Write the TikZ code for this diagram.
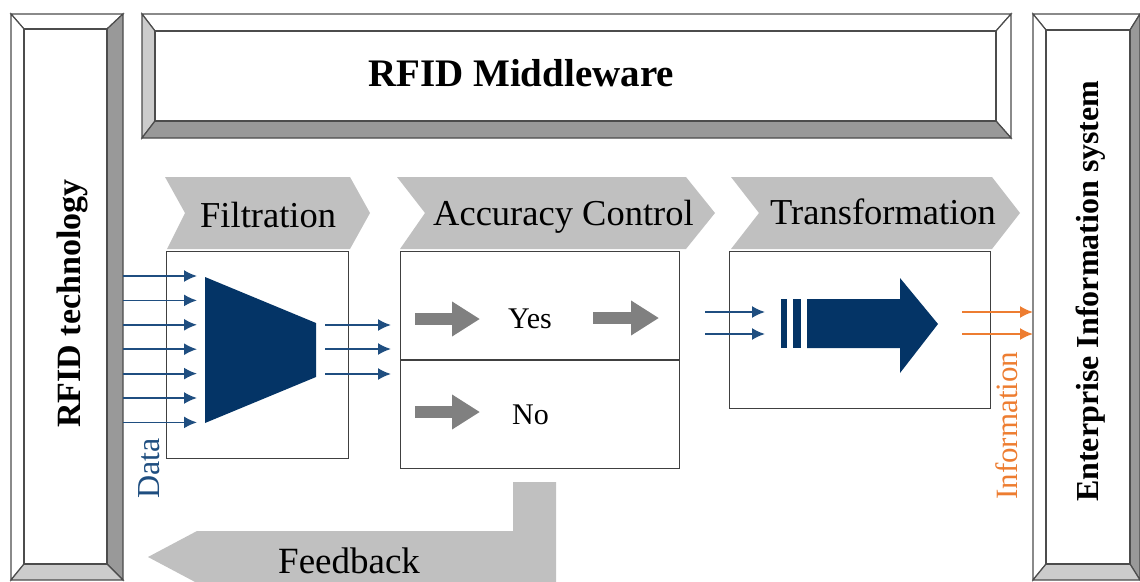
\documentclass[tikz,border=0pt]{standalone}
\usepackage{fontspec}
\setmainfont{Liberation Serif}
\usetikzlibrary{arrows.meta}

\definecolor{navy}{RGB}{4,52,102}
\definecolor{flowblue}{RGB}{31,78,128}
\definecolor{infoorange}{RGB}{237,125,49}
\definecolor{chevgray}{RGB}{192,192,192}
\definecolor{arrowgray}{RGB}{128,128,128}
\definecolor{bevdark}{RGB}{153,153,153}
\definecolor{bevlight}{RGB}{204,204,204}

% bevelled panel: outer x1 y1 x2 y2, inner x1 y1 x2 y2
\newcommand{\bevelbox}[8]{%
  \filldraw[bevelline, fill=bvtop] (#1,#2) -- (#3,#2) -- (#7,#6) -- (#5,#6) -- cycle;
  \filldraw[bevelline, fill=bvleft] (#1,#2) -- (#5,#6) -- (#5,#8) -- (#1,#4) -- cycle;
  \filldraw[bevelline, fill=bvright] (#3,#2) -- (#3,#4) -- (#7,#8) -- (#7,#6) -- cycle;
  \filldraw[bevelline, fill=bvbottom] (#1,#4) -- (#3,#4) -- (#7,#8) -- (#5,#8) -- cycle;
  \filldraw[bevelline, fill=white] (#5,#6) rectangle (#7,#8);
}

\tikzset{
  bevelline/.style={draw=black!70, line width=1.2pt},
  stagebox/.style={draw=black!75, line width=1.3pt, fill=white, anchor=north west, inner sep=0pt},
  dataflow/.style={flowblue, line width=1.8pt, -{Latex[length=13pt, width=12pt]}},
  infoflow/.style={infoorange, line width=1.8pt, -{Latex[length=13pt, width=12pt]}},
  grayflow/.style={arrowgray, line width=12pt, -{Triangle[length=28pt, width=33pt]}},
  paneltext/.style={font=\fontsize{34}{36}\selectfont\bfseries, rotate=90, anchor=base west, inner sep=0pt},
  stagetext/.style={font=\fontsize{36.5}{38}\selectfont, anchor=base west, inner sep=0pt},
  answertext/.style={font=\fontsize{30}{32}\selectfont, anchor=base west, inner sep=0pt},
  flowtext/.style={font=\fontsize{32}{34}\selectfont, rotate=90, anchor=base west, inner sep=0pt}
}

\begin{document}
\begin{tikzpicture}[x=1pt, y=-1pt]

\useasboundingbox (0,0) rectangle (1140,581);

% side and top panels
\colorlet{bvtop}{white}\colorlet{bvleft}{white}\colorlet{bvright}{bevdark}\colorlet{bvbottom}{bevlight}
\bevelbox{11}{14}{123}{580}{24}{29}{107}{564}
\bevelbox{1033}{14}{1140}{580}{1046}{30}{1130}{564}
\colorlet{bvleft}{bevlight}\colorlet{bvright}{white}\colorlet{bvbottom}{bevdark}
\bevelbox{142}{14}{1011}{138}{155}{31}{996}{121}

% stage chevrons
\fill[chevgray] (165,177) -- (350,177) -- (370,213) -- (350,249) -- (167,249) -- (185,213) -- cycle;
\fill[chevgray] (397,177) -- (686,177) -- (715,213) -- (686,249) -- (400,249) -- (425,213) -- cycle;
\fill[chevgray] (731,177) -- (992,177) -- (1020,213) -- (992,249) -- (731,249) -- (759,213) -- cycle;

% feedback arrow
\fill[chevgray] (556,482) -- (556,583) -- (197,583) -- (148,557) -- (197,531) -- (513,531) -- (513,482) -- cycle;

% stage boxes
\node[stagebox, minimum width=182, minimum height=207] (filt) at (166,251) {};
\node[stagebox, minimum width=279, minimum height=217] (acc) at (400,251) {};
\node[stagebox, minimum width=261, minimum height=157] (trans) at (729,251) {};
\draw[black!75, line width=1.3pt] ([yshift=-109pt]acc.north west) -- ([yshift=-109pt]acc.north east);

% filtration
\foreach \i in {0,...,6} {
  \coordinate (din\i) at (123,{276+24.4*\i});
  \coordinate (dend\i) at (197,{276+24.4*\i});
  \draw[dataflow] (din\i) -- (dend\i);
}
\fill[navy] (205,277) -- (316,323) -- (316,377) -- (205,423) -- cycle;
\foreach \y [count=\i] in {325,349,374} {
  \coordinate (fout\i) at (325,\y);
  \coordinate (fend\i) at (391,\y);
  \draw[dataflow] (fout\i) -- (fend\i);
}

% accuracy control
\coordinate (yesa) at (415,319);
\coordinate (yesb) at (480,319);
\coordinate (yesc) at (593,318);
\coordinate (yesd) at (659,318);
\coordinate (noa) at (415,412);
\coordinate (nob) at (480,412);
\draw[grayflow] (yesa) -- (yesb);
\draw[grayflow] (yesc) -- (yesd);
\draw[grayflow] (noa) -- (nob);

% transformation
\foreach \y [count=\i] in {312,334} {
  \coordinate (tin\i) at (705,\y);
  \coordinate (tend\i) at (765,\y);
  \draw[dataflow] (tin\i) -- (tend\i);
  \coordinate (iout\i) at (962,\y);
  \coordinate (iend\i) at (1033,\y);
  \draw[infoflow] (iout\i) -- (iend\i);
}
\fill[navy] (781,299) rectangle (787,348);
\fill[navy] (793,299) rectangle (801,348);
\fill[navy] (807,299) -- (900,299) -- (900,278) -- (938,324) -- (900,373) -- (900,348) -- (807,348) -- cycle;

% texts
\node[font=\fontsize{39}{40}\selectfont\bfseries, anchor=base west, inner sep=0pt] (mwtext) at (368,86) {RFID Middleware};
\node[paneltext] (tech) at (80,428) {RFID technology};
\node[paneltext, font=\fontsize{32}{34}\selectfont\bfseries] (eis) at (1098,502) {Enterprise Information system};
\node[stagetext] (filttext) at (200,227) {Filtration};
\node[stagetext] (acctext) at (433,225) {Accuracy Control};
\node[stagetext] (transtext) at (770,224) {Transformation};
\node[answertext] (yes) at (508,328) {Yes};
\node[answertext] (no) at (512,424) {No};
\node[stagetext, font=\fontsize{37}{38}\selectfont] (feedback) at (278,573) {Feedback};
\node[flowtext, text=flowblue] (data) at (159,499) {Data};
\node[flowtext, font=\fontsize{31}{33}\selectfont, text=infoorange] (info) at (1017,500) {Information};

\end{tikzpicture}
\end{document}
